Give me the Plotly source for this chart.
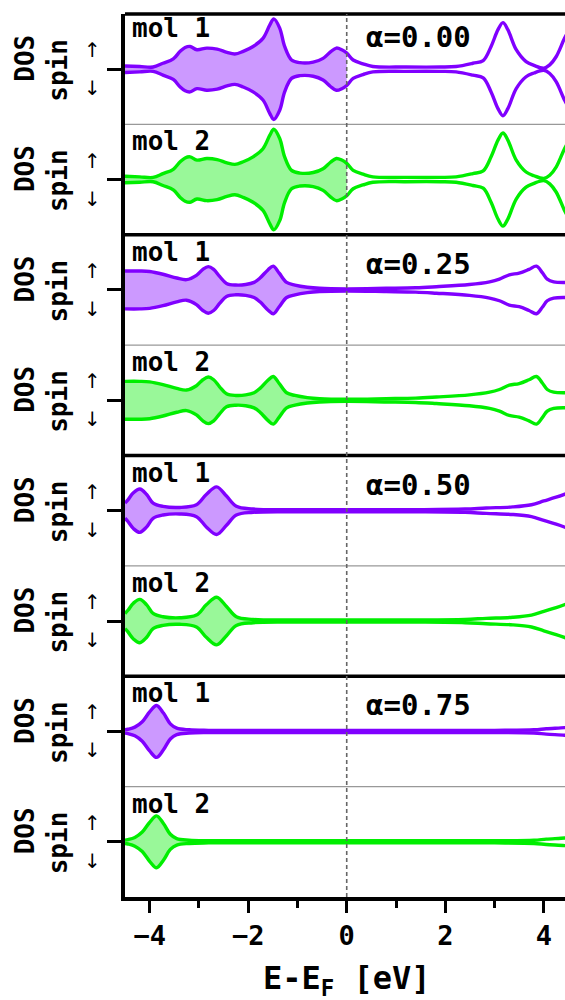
import plotly.graph_objects as go

# ---------------- data ----------------
alpha_labels = ["α=0.00", "α=0.25", "α=0.50", "α=0.75"]
mol_labels = ["mol 1", "mol 2"]
x_tick_vals = [-4, -2, 0, 2, 4]
x_minor_vals = [-3, -1, 1, 3]

energy_a000 = [-4.5, -4.2, -3.93, -3.73, -3.52, -3.38, -3.28, -3.18, -3.04, -2.84,
               -2.63, -2.43, -2.27, -2.10, -1.90, -1.70, -1.56, -1.48, -1.36, -1.26,
               -1.12, -0.95, -0.68, -0.48, -0.33, -0.21, -0.10, 0.0, 0.13, 0.33,
               0.53, 1.2, 1.9, 2.22, 2.56, 2.77, 2.93, 3.07, 3.17, 3.27,
               3.44, 3.64, 3.80, 4.0, 4.12, 4.25, 4.42, 4.5]
dos_a000_mol1 = [0.06, 0.05, 0.04, 0.11, 0.19, 0.33, 0.40, 0.42, 0.36, 0.39,
                 0.37, 0.31, 0.28, 0.33, 0.42, 0.57, 0.82, 0.93, 0.76, 0.42,
                 0.17, 0.12, 0.13, 0.20, 0.32, 0.39, 0.36, 0.30, 0.17, 0.10,
                 0.05, 0.04, 0.04, 0.05, 0.11, 0.16, 0.42, 0.73, 0.86, 0.73,
                 0.36, 0.14, 0.07, 0.02, 0.08, 0.23, 0.57, 0.70]
dos_a000_mol2 = [0.06, 0.05, 0.04, 0.11, 0.19, 0.33, 0.40, 0.42, 0.36, 0.39,
                 0.37, 0.31, 0.28, 0.33, 0.42, 0.57, 0.82, 0.93, 0.76, 0.42,
                 0.17, 0.12, 0.13, 0.20, 0.32, 0.39, 0.36, 0.30, 0.17, 0.10,
                 0.05, 0.04, 0.04, 0.05, 0.11, 0.16, 0.42, 0.73, 0.86, 0.73,
                 0.36, 0.14, 0.07, 0.02, 0.08, 0.23, 0.57, 0.70]

energy_a025 = [-4.5, -4.2, -4.0, -3.73, -3.45, -3.25, -3.05, -2.92, -2.81, -2.70,
               -2.58, -2.44, -2.25, -2.05, -1.88, -1.76, -1.60, -1.49, -1.37, -1.22,
               -1.05, -0.80, -0.55, 0.0, 0.8, 1.4, 1.82, 2.49, 2.90, 3.10,
               3.30, 3.50, 3.70, 3.85, 3.97, 4.07, 4.20, 4.5]
dos_a025_mol1 = [0.35, 0.35, 0.34, 0.29, 0.22, 0.19, 0.27, 0.38, 0.43, 0.38,
                 0.25, 0.12, 0.09, 0.10, 0.14, 0.22, 0.37, 0.44, 0.31, 0.14,
                 0.09, 0.05, 0.03, 0.02, 0.03, 0.04, 0.06, 0.10, 0.15, 0.20,
                 0.28, 0.31, 0.38, 0.44, 0.32, 0.20, 0.15, 0.14]
dos_a025_mol2 = [0.35, 0.35, 0.34, 0.29, 0.22, 0.19, 0.27, 0.38, 0.43, 0.38,
                 0.25, 0.12, 0.09, 0.10, 0.14, 0.22, 0.37, 0.44, 0.31, 0.14,
                 0.09, 0.05, 0.03, 0.02, 0.03, 0.04, 0.06, 0.10, 0.15, 0.20,
                 0.28, 0.31, 0.38, 0.44, 0.32, 0.20, 0.15, 0.14]

energy_a050 = [-4.5, -4.44, -4.33, -4.20, -4.06, -3.93, -3.73, -3.39, -3.05, -2.85,
               -2.64, -2.44, -2.24, -1.90, -1.0, 0.0, 1.5, 2.4, 2.83, 3.37,
               3.75, 4.0, 4.25, 4.5]
dos_a050_mol1 = [0.14, 0.20, 0.33, 0.40, 0.30, 0.14, 0.08, 0.06, 0.11, 0.30,
                 0.44, 0.27, 0.08, 0.03, 0.02, 0.02, 0.02, 0.03, 0.05, 0.07,
                 0.11, 0.18, 0.25, 0.33]
dos_a050_mol2 = [0.14, 0.20, 0.33, 0.40, 0.30, 0.14, 0.08, 0.06, 0.11, 0.30,
                 0.44, 0.27, 0.08, 0.03, 0.02, 0.02, 0.02, 0.03, 0.05, 0.07,
                 0.11, 0.18, 0.25, 0.33]

energy_a075 = [-4.5, -4.44, -4.30, -4.15, -4.0, -3.86, -3.72, -3.58, -3.45, -3.2,
               -2.8, 0.0, 3.0, 3.8, 4.05, 4.42, 4.5]
dos_a075_mol1 = [0.03, 0.04, 0.08, 0.18, 0.36, 0.48, 0.34, 0.14, 0.06, 0.03,
                 0.02, 0.02, 0.02, 0.03, 0.05, 0.07, 0.08]
dos_a075_mol2 = [0.03, 0.04, 0.08, 0.18, 0.36, 0.48, 0.34, 0.14, 0.06, 0.03,
                 0.02, 0.02, 0.02, 0.03, 0.05, 0.07, 0.08]

energies = [energy_a000, energy_a025, energy_a050, energy_a075]
dos_sets = [(dos_a000_mol1, dos_a000_mol2), (dos_a025_mol1, dos_a025_mol2),
            (dos_a050_mol1, dos_a050_mol2), (dos_a075_mol1, dos_a075_mol2)]

# ---------------- style ----------------
line_colors = ["#8000ff", "#00ee00"]
fill_colors = ["rgba(128,0,255,0.4)", "rgba(0,238,0,0.4)"]
MONO = "DejaVu Sans Mono"
W, H = 565, 1000
L, T, B = 125, 14, 103
NP = 8
x_range = [-4.5, 4.43]
y_range = [-1.02, 1.02]

fig = go.Figure()
layout = {}
for g in range(4):
    E = energies[g]
    for m in range(2):
        p = 2 * g + m
        ax = p + 1
        xa = "x" if ax == 1 else f"x{ax}"
        ya = "y" if ax == 1 else f"y{ax}"
        d = dos_sets[g][m]
        n_occ = sum(1 for e in E if e <= 0)
        occE = E[:n_occ]
        occD = d[:n_occ]
        fig.add_trace(go.Scatter(x=occE, y=occD, mode="lines",
                                 line=dict(width=0, shape="spline"),
                                 xaxis=xa, yaxis=ya, hoverinfo="skip", showlegend=False))
        fig.add_trace(go.Scatter(x=occE, y=[-v for v in occD], mode="lines",
                                 line=dict(width=0, shape="spline"), fill="tonexty",
                                 fillcolor=fill_colors[m],
                                 xaxis=xa, yaxis=ya, hoverinfo="skip", showlegend=False))
        for sgn in (1, -1):
            fig.add_trace(go.Scatter(x=E, y=[sgn * v for v in d], mode="lines",
                                     line=dict(color=line_colors[m], width=3.4, shape="spline"),
                                     xaxis=xa, yaxis=ya, hoverinfo="skip", showlegend=False))
        y0 = 1 - (p + 1) / NP
        y1 = 1 - p / NP
        xkey = "xaxis" if ax == 1 else f"xaxis{ax}"
        ykey = "yaxis" if ax == 1 else f"yaxis{ax}"
        xdict = dict(domain=[0, 1], range=x_range, anchor=ya, showgrid=False,
                     zeroline=False, fixedrange=True)
        if p == NP - 1:
            xdict.update(showline=True, linewidth=3.5, linecolor="black",
                         ticks="outside", tickvals=x_tick_vals, ticklen=12,
                         tickwidth=3, tickcolor="black", showticklabels=True,
                         tickfont=dict(family=MONO, size=27, color="black", weight="bold"),
                         minor=dict(tickvals=x_minor_vals, ticks="outside", ticklen=7,
                                    tickwidth=3, tickcolor="black"))
        else:
            xdict.update(showline=False, ticks="", showticklabels=False)
        layout[xkey] = xdict
        layout[ykey] = dict(domain=[y0, y1], range=y_range, anchor=xa, showgrid=False,
                            zeroline=False, showline=True, linewidth=3.5, linecolor="black",
                            ticks="outside", tickvals=[0], ticklen=14, tickwidth=3,
                            tickcolor="black", showticklabels=False, fixedrange=True)

shapes = []
for g in range(4):
    shapes.append(dict(type="line", xref="paper", yref="paper", x0=0, x1=1.02,
                       y0=1 - g / 4, y1=1 - g / 4, line=dict(color="black", width=3.5)))
    yd = 1 - (2 * g + 1) / NP
    shapes.append(dict(type="line", xref="paper", yref="paper", x0=0, x1=1.02,
                       y0=yd, y1=yd, line=dict(color="#999999", width=1.2)))
shapes.append(dict(type="line", xref="x8", yref="paper", x0=0, x1=0, y0=0, y1=1,
                   line=dict(color="#666666", width=1.6, dash="4px,3px"), layer="above"))

annotations = []
for p in range(NP):
    g, m = divmod(p, 2)
    top = 1 - p / NP
    ctr = 1 - (p + 0.5) / NP
    annotations.append(dict(text=mol_labels[m], xref="paper", yref="paper", x=0, y=top,
                            xshift=5, yshift=-(14 if p == 0 else 17), xanchor="left",
                            yanchor="middle", showarrow=False,
                            font=dict(family=MONO, size=26, color="black", weight="bold")))
    annotations.append(dict(text="DOS", xref="paper", yref="paper", x=0, y=ctr,
                            xshift=-100, yshift=10.5, textangle=-90, xanchor="center",
                            yanchor="middle", showarrow=False,
                            font=dict(family=MONO, size=26, color="black", weight="bold")))
    annotations.append(dict(text="spin", xref="paper", yref="paper", x=0, y=ctr,
                            xshift=-67, yshift=-1.5, textangle=-90, xanchor="center",
                            yanchor="middle", showarrow=False,
                            font=dict(family=MONO, size=26, color="black", weight="bold")))
    for arrow, dy in (("↑", 19), ("↓", -19)):
        annotations.append(dict(text=arrow, xref="paper", yref="paper", x=0, y=ctr,
                                xshift=-33, yshift=dy, xanchor="center", yanchor="middle",
                                showarrow=False,
                                font=dict(family="DejaVu Sans", size=20, color="black")))
for g in range(4):
    ax = 2 * g + 1
    annotations.append(dict(text=alpha_labels[g], xref="x" if ax == 1 else f"x{ax}",
                            yref="paper", x=1.46, y=1 - g / 4,
                            yshift=-(23 if g == 0 else 29), xanchor="center",
                            yanchor="middle", showarrow=False,
                            font=dict(family=MONO, size=29, color="black", weight="bold")))
annotations.append(dict(text="E-E<sub>F</sub> [eV]", xref="x8", yref="paper", x=0, y=0,
                        yshift=-83, xanchor="center", yanchor="middle", showarrow=False,
                        font=dict(family=MONO, size=32, color="black", weight="bold")))

fig.update_layout(width=W, height=H, margin=dict(l=L, r=0, t=T, b=B, pad=0),
                  paper_bgcolor="white", plot_bgcolor="white", showlegend=False,
                  shapes=shapes, annotations=annotations, hovermode=False, **layout)
fig.write_html("out.html", config={"displayModeBar": False})
